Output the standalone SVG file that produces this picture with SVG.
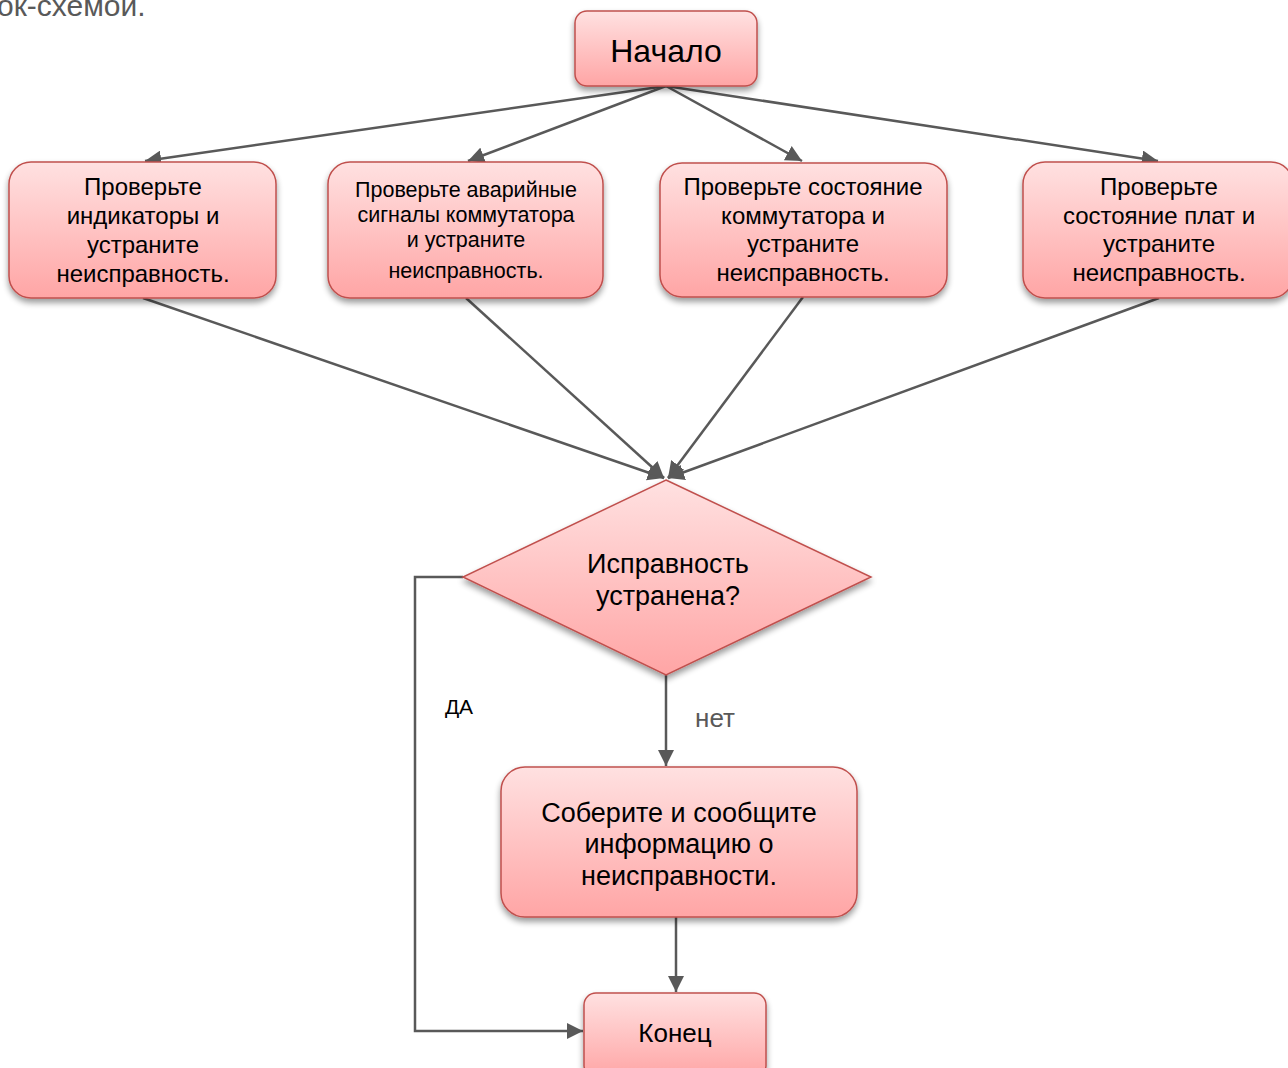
<svg xmlns="http://www.w3.org/2000/svg" width="1288" height="1068" viewBox="0 0 1288 1068">
<defs>
<linearGradient id="g" x1="0" y1="0" x2="0" y2="1">
<stop offset="0" stop-color="#ffe1e1"/>
<stop offset="1" stop-color="#ffa5a5"/>
</linearGradient>
<filter id="sh" x="-10%" y="-10%" width="120%" height="130%">
<feGaussianBlur in="SourceAlpha" stdDeviation="3"/>
<feOffset dx="0" dy="4" result="b"/>
<feComponentTransfer><feFuncA type="linear" slope="0.4"/></feComponentTransfer>
<feMerge><feMergeNode/><feMergeNode in="SourceGraphic"/></feMerge>
</filter>
<marker id="ah" viewBox="0 0 10 10" refX="10" refY="5" markerWidth="6.5" markerHeight="6.5" markerUnits="strokeWidth" orient="auto">
<path d="M0,0 L10,5 L0,10 z" fill="#595959"/>
</marker>
</defs>
<style>
.n{fill:url(#g);stroke:#c0504d;stroke-width:1.5;filter:url(#sh)}
.t{font-family:"Liberation Sans",Arial,sans-serif;fill:#000;text-anchor:middle}
.c{fill:none;stroke:#595959;stroke-width:2.5;marker-end:url(#ah)}
</style>
<rect width="1288" height="1068" fill="#fff"/>
<text x="-3" y="16" font-family="Liberation Sans, Arial, sans-serif" font-size="30" fill="#595959">ок-схемой.</text>
<g id="connectors">
<line class="c" x1="666" y1="86" x2="145" y2="161"/>
<line class="c" x1="666" y1="86" x2="468" y2="161"/>
<line class="c" x1="666" y1="86" x2="802" y2="161"/>
<line class="c" x1="666" y1="86" x2="1158" y2="161"/>
<line class="c" x1="143" y1="298" x2="664" y2="478"/>
<line class="c" x1="466" y1="298" x2="664" y2="478"/>
<line class="c" x1="803" y1="297" x2="668" y2="478"/>
<line class="c" x1="1159" y1="298" x2="668" y2="478"/>
<line class="c" x1="666" y1="675" x2="666" y2="766"/>
<polyline class="c" points="463,577 415,577 415,1031 583,1031"/>
<line class="c" x1="676" y1="917" x2="676" y2="992"/>
<text x="459" y="714" font-family="Liberation Sans, Arial, sans-serif" font-size="21" fill="#000" text-anchor="middle">ДА</text>
<text x="715" y="727" font-family="Liberation Sans, Arial, sans-serif" font-size="26" fill="#595959" text-anchor="middle">нет</text>
</g>
<g id="start">
<rect class="n" x="575" y="11" width="182" height="75" rx="12"/>
<text class="t" x="666" y="62" font-size="32">Начало</text>
</g>
<g id="check1">
<rect class="n" x="9" y="162" width="267" height="136" rx="22"/>
<text class="t" font-size="24"><tspan x="143" y="195">Проверьте</tspan><tspan x="143" y="224">индикаторы и</tspan><tspan x="143" y="253">устраните</tspan><tspan x="143" y="282">неисправность.</tspan></text>
</g>
<g id="check2">
<rect class="n" x="328" y="162" width="275" height="136" rx="22"/>
<text class="t" font-size="21.5"><tspan x="466" y="197">Проверьте аварийные</tspan><tspan x="466" y="222">сигналы коммутатора</tspan><tspan x="466" y="247">и устраните</tspan><tspan x="466" y="278">неисправность.</tspan></text>
</g>
<g id="check3">
<rect class="n" x="660" y="163" width="287" height="134" rx="22"/>
<text class="t" font-size="24"><tspan x="803" y="195">Проверьте состояние</tspan><tspan x="803" y="224">коммутатора и</tspan><tspan x="803" y="252">устраните</tspan><tspan x="803" y="281">неисправность.</tspan></text>
</g>
<g id="check4">
<rect class="n" x="1023" y="162" width="270" height="136" rx="22"/>
<text class="t" font-size="24"><tspan x="1159" y="195">Проверьте</tspan><tspan x="1159" y="224">состояние плат и</tspan><tspan x="1159" y="252">устраните</tspan><tspan x="1159" y="281">неисправность.</tspan></text>
</g>
<g id="decision">
<polygon class="n" points="666,480 871,577 666,675 463,577"/>
<text class="t" font-size="27"><tspan x="668" y="573">Исправность</tspan><tspan x="668" y="605">устранена?</tspan></text>
</g>
<g id="collect">
<rect class="n" x="501" y="767" width="356" height="150" rx="24"/>
<text class="t" font-size="27"><tspan x="679" y="822">Соберите и сообщите</tspan><tspan x="679" y="853">информацию о</tspan><tspan x="679" y="885">неисправности.</tspan></text>
</g>
<g id="end">
<rect class="n" x="584" y="993" width="182" height="85" rx="12"/>
<text class="t" font-size="26" x="675" y="1042">Конец</text>
</g>
</svg>
